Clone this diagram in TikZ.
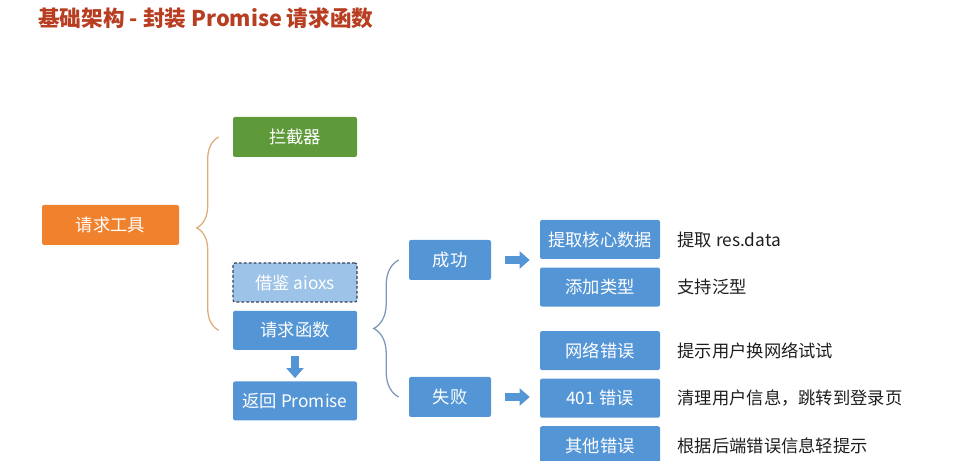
\documentclass[tikz,border=0pt]{standalone}
\usepackage{fontspec}
\setmainfont{Noto Sans CJK SC}
\usetikzlibrary{positioning, arrows.meta, decorations.pathreplacing}
\definecolor{reqorange}{RGB}{241, 130, 45}
\definecolor{reqgreen}{RGB}{94, 154, 58}
\definecolor{reqblue}{RGB}{84, 149, 214}
\definecolor{reqlight}{RGB}{157, 195, 232}
\definecolor{reqdash}{RGB}{55, 65, 85}
\definecolor{reqtitle}{RGB}{184, 62, 34}
\definecolor{bracetan}{RGB}{222, 172, 122}
\definecolor{braceblue}{RGB}{125, 150, 185}
\definecolor{reqtext}{RGB}{30, 30, 30}

\begin{document}
\begin{tikzpicture}[
    node distance=0.2cm,
    box/.style={rectangle, rounded corners=1.5pt, inner sep=0pt,
                minimum width=3.1cm, minimum height=0.975cm, align=center,
                fill=reqblue, text=white, font=\fontsize{12.3}{14}\selectfont},
    smallbox/.style={box, minimum width=2.05cm, minimum height=1cm},
    rightbox/.style={box, minimum width=3cm},
    note/.style={anchor=west, inner sep=0pt, text=reqtext,
                 font=\fontsize{12.3}{14}\selectfont},
    arrow/.style={-{Triangle[width=0.42cm, length=0.25cm]}, line width=0.2cm,
                  color=reqblue},
    curly/.style={decorate, line width=0.9pt}
  ]
    \useasboundingbox (0,0) rectangle (24.15,11.525);

    \node[anchor=west, inner sep=0pt, text=reqtitle,
          font=\fontsize{15.4}{17}\selectfont\bfseries] (title) at (0.95,11.075)
          {基础架构 - 封装 Promise 请求函数};

    % left part
    \node[box, fill=reqorange, minimum width=3.425cm, minimum height=1cm] (tool) at (2.7625,5.9) {请求工具};
    \node[box, fill=reqgreen, minimum height=1cm] (intercept) at (7.375,8.1) {拦截器};
    \node[box, fill=reqlight, draw=reqdash, dash pattern=on 2pt off 1.5pt, line width=0.8pt] (borrow) at (7.375,4.4625) {借鉴 aioxs};
    \node[box, below=of borrow] (reqfn) {请求函数};
    \node[box, below=0.775cm of reqfn] (promise) {返回 Promise};

    % success / fail
    \node[smallbox] (success) at (11.25,5.025) {成功};
    \node[smallbox] (fail)    at (11.25,1.6)   {失败};

    \node[rightbox] (core) at (15,5.5375) {提取核心数据};
    \node[rightbox, below=of core]       (types)   {添加类型};
    \node[rightbox, below=0.6cm of types] (network) {网络错误};
    \node[rightbox, below=of network]    (unauth)  {401 错误};
    \node[rightbox, below=of unauth]     (others)  {其他错误};

    \node[note, right=0.425cm of core]    (coretext)    {提取 res.data};
    \node[note, right=0.425cm of types]   (typestext)   {支持泛型};
    \node[note, right=0.425cm of network] (networktext) {提示用户换网络试试};
    \node[note, right=0.425cm of unauth]  (unauthtext)  {清理用户信息，跳转到登录页};
    \node[note, right=0.425cm of others]  (otherstext)  {根据后端错误信息轻提示};

    % braces and arrows
    \draw[curly, bracetan, decoration={brace, amplitude=0.55cm, aspect=0.53}]
      ([xshift=-0.35cm]reqfn.west) -- ([xshift=-0.35cm]intercept.west);
    \draw[curly, braceblue, decoration={brace, amplitude=0.625cm, aspect=0.5}]
      ([xshift=-0.25cm]fail.west) -- ([xshift=-0.25cm]success.west);

    \draw[arrow, shorten <=0.15cm, shorten >=0.075cm] (reqfn) -- (promise);
    \draw[arrow, shorten <=0.35cm, shorten >=0.25cm] (success.east) -- (success.east -| core.west);
    \draw[arrow, shorten <=0.35cm, shorten >=0.25cm] (fail.east) -- (fail.east -| unauth.west);
  \end{tikzpicture}
\end{document}
